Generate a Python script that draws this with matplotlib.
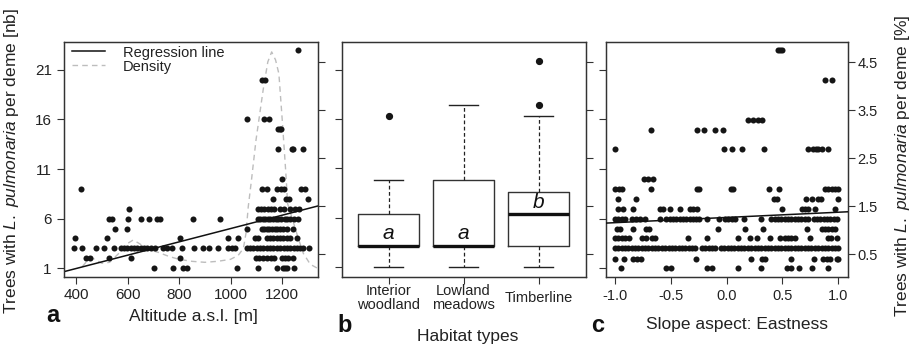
import matplotlib
matplotlib.use('Agg')
import matplotlib.pyplot as plt
import numpy as np

plt.rcParams['font.family'] = ['Liberation Sans', 'DejaVu Sans']
plt.rcParams['mathtext.fontset'] = 'custom'
plt.rcParams['mathtext.rm'] = 'Liberation Sans'
plt.rcParams['mathtext.it'] = 'Liberation Sans:italic'

# ---------------- Panel a: altitude vs trees per deme ----------------
tree_levels = [1, 2, 3, 4, 5, 6, 7, 8, 9, 10, 13, 15, 16, 20, 23]
alt_by_level = [
    [703, 778, 817, 832, 1027, 1108, 1182, 1203, 1212, 1221, 1247],
    [439, 454, 529, 612, 804, 1099, 1112, 1128, 1141, 1157, 1170, 1199, 1212, 1225, 1244],
    [390, 422, 476, 509, 548, 573, 586, 599, 612, 625, 638, 651, 664, 677, 690, 705, 737,
     752, 771, 810, 858, 892, 918, 953, 992, 1007, 1017, 1063, 1076, 1089, 1102, 1115,
     1128, 1141, 1154, 1167, 1180, 1193, 1206, 1219, 1232, 1245, 1258, 1271, 1283, 1306],
    [394, 519, 804, 992, 1030, 1095, 1108, 1140, 1153, 1166, 1179, 1192, 1205, 1218, 1231, 1257],
    [551, 597, 1065, 1121, 1131, 1141, 1151, 1161, 1171, 1181, 1191, 1205, 1220, 1244],
    [528, 541, 603, 652, 684, 713, 726, 855, 959, 1105, 1115, 1125, 1135, 1145, 1155, 1165,
     1175, 1185, 1195, 1210, 1220, 1232, 1245, 1262],
    [607, 1105, 1118, 1131, 1144, 1157, 1168, 1192, 1209, 1231, 1250, 1265],
    [1166, 1214, 1227, 1302],
    [421, 1124, 1140, 1182, 1195, 1208, 1274, 1289],
    [1201],
    [1186, 1238, 1244, 1280],
    [1186, 1192, 1196],
    [1065, 1130, 1148],
    [1121, 1134],
    [1261],
]
reg_a_intercept = -1.708
reg_a_slope = 0.006707
dens_alt = [425, 445, 465, 500, 530, 570, 600, 622, 645, 680, 720, 760, 800, 850, 900, 950,
            1000, 1030, 1050, 1060, 1069, 1082, 1099, 1127, 1145, 1160, 1175, 1188, 1202,
            1215, 1222, 1240, 1260, 1283, 1310, 1338]
dens_nb = [1.2, 1.8, 2.0, 1.5, 1.6, 2.6, 3.5, 3.85, 3.5, 2.9, 2.6, 2.2, 1.9, 1.7, 1.6, 1.7,
           1.9, 2.3, 3.0, 4.5, 7.2, 10.0, 13.9, 19.0, 21.8, 22.8, 22.0, 20.6, 15.6,
           10.6, 7.5, 6.0, 4.3, 2.5, 1.4, 1.0]

# ---------------- Panel b: habitat boxplots ----------------
habitats = ['Interior\nwoodland', 'Lowland\nmeadows', 'Timberline']
box_whislo = [1.0, 1.0, 1.0]
box_q1 = [3.1, 3.1, 3.1]
box_med = [3.1, 3.1, 6.4]
box_q3 = [6.4, 9.8, 8.6]
box_whishi = [9.8, 17.5, 16.3]
box_fliers = [[16.3], [], [17.4, 21.9]]
group_letters = ['a', 'a', 'b']
letter_y = [4.35, 4.35, 7.55]

# ---------------- Panel c: eastness vs trees per deme [%] ----------------
pct_levels = [0.21, 0.41, 0.62, 0.83, 1.03, 1.24, 1.45, 1.66, 1.86, 2.07, 2.69, 3.10, 3.31, 4.14, 4.76]
east_by_level = [
    [-0.949, -0.546, -0.501, -0.173, -0.128, 0.104, 0.307, 0.537, 0.573, 0.648, 0.761, 0.91],
    [-1.0, -0.916, -0.836, -0.8, -0.77, -0.278, 0.218, 0.313, 0.343, 0.576, 0.785, 0.866,
     0.896, 0.925, 0.99, 1.0],
    [-1.00, -0.97, -0.94, -0.91, -0.88, -0.85, -0.82, -0.79, -0.76, -0.73, -0.70, -0.67,
     -0.64, -0.61, -0.58, -0.55, -0.52, -0.49, -0.46, -0.43, -0.40, -0.37, -0.34, -0.31,
     -0.28, -0.22, -0.19, -0.16, -0.13, -0.10, -0.05, -0.02, 0.01, 0.04, 0.07, 0.10, 0.13,
     0.16, 0.19, 0.22, 0.25, 0.28, 0.31, 0.34, 0.37, 0.40, 0.43, 0.46, 0.49, 0.52, 0.55,
     0.58, 0.61, 0.64, 0.67, 0.70, 0.73, 0.76, 0.79, 0.82, 0.85, 0.88, 0.91, 0.94, 0.97, 1.00],
    [-1.0, -0.97, -0.94, -0.91, -0.87, -0.76, -0.72, -0.67, -0.64, -0.343, -0.173, 0.099,
     0.209, 0.275, 0.388, 0.478, 0.52, 0.55, 0.58, 0.61, 0.746, 0.91, 0.934, 0.985],
    [-0.985, -0.955, -0.842, -0.722, -0.693, -0.081, 0.164, 0.328, 0.722, 0.85, 0.88, 0.91,
     0.94, 0.97],
    [-1.0, -0.97, -0.94, -0.91, -0.85, -0.81, -0.78, -0.73, -0.60, -0.54, -0.51, -0.48,
     -0.45, -0.42, -0.39, -0.36, -0.33, -0.30, -0.27, -0.25, -0.18, -0.07, -0.015, 0.015,
     0.045, 0.075, 0.16, 0.31, 0.40, 0.43, 0.46, 0.49, 0.52, 0.55, 0.58, 0.61, 0.64, 0.67,
     0.70, 0.73, 0.78, 0.81, 0.84, 0.87, 0.90, 0.93, 0.96, 0.99],
    [-0.97, -0.93, -0.836, -0.597, -0.567, -0.507, -0.418, -0.328, -0.30, -0.269, 0.493,
     0.672, 0.70, 0.73, 0.79, 0.97],
    [-0.976, -0.815, 0.424, 0.448, 0.710, 0.767, 0.821, 0.845, 1.0],
    [-1.0, -0.96, -0.94, -0.68, -0.269, -0.248, 0.039, 0.06, 0.382, 0.469, 0.881, 0.91,
     0.94, 0.97, 1.0],
    [-0.737, -0.70, -0.663],
    [-1.0, -0.024, 0.045, 0.134, 0.337, 0.731, 0.776, 0.80, 0.821, 0.851, 0.910],
    [-0.678, -0.269, -0.2, -0.104, -0.03],
    [0.194, 0.239, 0.278, 0.313],
    [0.881, 0.946],
    [0.463, 0.478, 0.493],
]
reg_c_intercept = 1.267
reg_c_slope = 0.109

# axis ticks
nb_ticks = [1, 6, 11, 16, 21]
pct_ticks = [0.5, 1.5, 2.5, 3.5, 4.5]
alt_ticks = [400, 600, 800, 1000, 1200]
east_ticks = [-1.0, -0.5, 0.0, 0.5, 1.0]
east_ticklabels = ['-1.0', '-0.5', '0.0', '0.5', '1.0']

# ---------------- Figure ----------------
W, H = 914, 349
fig = plt.figure(figsize=(W / 100, H / 100), dpi=100)


def rect(l, t, r, b):
    return [l / W, 1 - b / H, (r - l) / W, (b - t) / H]


NB_LIM = (0.12, 23.8)
PCT_FACTOR = 0.207
PCT_LIM = (NB_LIM[0] * PCT_FACTOR, NB_LIM[1] * PCT_FACTOR)
SPINE = '#333333'
DOT = '#151515'
TXT = '#222222'


def style(ax):
    for s in ax.spines.values():
        s.set_color(SPINE)
        s.set_linewidth(0.9)
    ax.tick_params(direction='out', length=4.8, width=0.8, color=SPINE,
                   labelcolor=TXT, labelsize=11)


def make(rectpx, nb_lim):
    ax = fig.add_axes(rect(*rectpx))
    ax.set_ylim(*nb_lim)
    ax.set_yticks(nb_ticks)
    ax2 = ax.twinx()
    ax2.set_ylim(*PCT_LIM)
    ax2.set_yticks(pct_ticks)
    style(ax)
    style(ax2)
    return ax, ax2


# Panel a
axa, axa2 = make((64, 42, 318, 277), NB_LIM)
xa = np.concatenate([np.array(v, float) for v in alt_by_level])
ya = np.concatenate([np.full(len(v), lv, float) for lv, v in zip(tree_levels, alt_by_level)])
axa.set_xlim(353, 1340)
axa.plot(dens_alt, dens_nb, color='#bdbdbd', lw=1.0, dashes=(4, 3), label='Density', zorder=2)
axa.scatter(xa, ya, s=19, color=DOT, zorder=3, linewidths=0)
xl = np.array(axa.get_xlim())
axa.plot(xl, reg_a_intercept + reg_a_slope * xl, color='#111111', lw=1.1,
         label='Regression line', zorder=4)
axa.set_xticks(alt_ticks)
axa.tick_params(axis='x', pad=3)
axa.tick_params(axis='y', pad=4)
axa2.set_yticklabels([])
h, l = axa.get_legend_handles_labels()
axa.legend([h[1], h[0]], [l[1], l[0]], loc='upper left', bbox_to_anchor=(0.03, 0.985),
           frameon=False, fontsize=10.5, handlelength=2.3, handletextpad=1.2,
           labelspacing=0.0, borderaxespad=0, borderpad=0, labelcolor=TXT)

# Panel b
NB_LIM_B = (-0.05, 23.86)
axb, axb2 = make((342, 42, 586, 277), NB_LIM_B)
stats = []
for i in range(3):
    stats.append(dict(med=box_med[i], q1=box_q1[i], q3=box_q3[i], whislo=box_whislo[i],
                      whishi=box_whishi[i], fliers=box_fliers[i], label=''))
pos = [1, 2, 3]
axb.bxp(stats, positions=pos, widths=0.81, showfliers=True, capwidths=0.39,
        boxprops=dict(color='#333333', lw=1.0),
        medianprops=dict(color='#111111', lw=2.4, solid_capstyle='butt'),
        whiskerprops=dict(color='#222222', lw=0.9, linestyle=(0, (3, 2))),
        capprops=dict(color='#222222', lw=1.0),
        flierprops=dict(marker='o', markerfacecolor=DOT, markeredgecolor=DOT, markersize=4.2))
axb.set_xlim(0.38, 3.63)
axb.set_xticks(pos)
axb.set_xticklabels([])
axb.set_yticklabels([])
axb2.set_yticklabels([])
axb.tick_params(axis='x', length=5)
for p, lab, ly in zip(pos, group_letters, letter_y):
    axb.text(p, ly, lab, style='italic', fontsize=15, ha='center', va='center', color='#111111')
tr = axb.get_xaxis_transform()
for p, lab in zip(pos, habitats):
    axb.text(p, -0.09, lab, transform=tr, ha='center', va='center', fontsize=10.5,
             linespacing=1.0, color=TXT)

# Panel c
axc, axc2 = make((606, 42, 848, 277), NB_LIM)
xc = np.concatenate([np.array(v, float) for v in east_by_level])
yc = np.concatenate([np.full(len(v), lv, float) for lv, v in zip(pct_levels, east_by_level)])
axc.set_yticklabels([])
axc2.set_xlim(-1.08, 1.087)
axc.set_xlim(-1.08, 1.087)
axc2.scatter(xc, yc, s=19, color=DOT, zorder=3, linewidths=0)
xl = np.array(axc2.get_xlim())
axc2.plot(xl, reg_c_intercept + reg_c_slope * xl, color='#111111', lw=1.1, zorder=4)
axc.set_xticks(east_ticks)
axc.set_xticklabels(east_ticklabels)
axc.tick_params(axis='x', labelsize=10.5, pad=4)
axc2.tick_params(axis='y', labelsize=10.5, pad=2)

# Labels
fig.text(12 / W, 1 - 161 / H, 'Trees with $\\it{L.\\ pulmonaria}$ per deme [nb]',
         rotation=90, ha='center', va='center', fontsize=12.5, color=TXT)
fig.text(903 / W, 1 - 166 / H, 'Trees with $\\it{L.\\ pulmonaria}$ per deme [%]',
         rotation=90, ha='center', va='center', fontsize=12.5, color=TXT)
fig.text(193 / W, 1 - 316 / H, 'Altitude a.s.l. [m]', ha='center', va='center',
         fontsize=12.5, color=TXT)
fig.text(468 / W, 1 - 336 / H, 'Habitat types', ha='center', va='center',
         fontsize=12.5, color=TXT)
fig.text(737 / W, 1 - 325 / H, 'Slope aspect: Eastness', ha='center', va='center',
         fontsize=12.5, color=TXT)
for txt, x, y in [('a', 53, 315), ('b', 345, 325), ('c', 598, 326)]:
    fig.text(x / W, 1 - y / H, txt, ha='center', va='center', fontsize=17,
             fontweight='bold', color='#111111')

fig.savefig('out.png', dpi=100)
